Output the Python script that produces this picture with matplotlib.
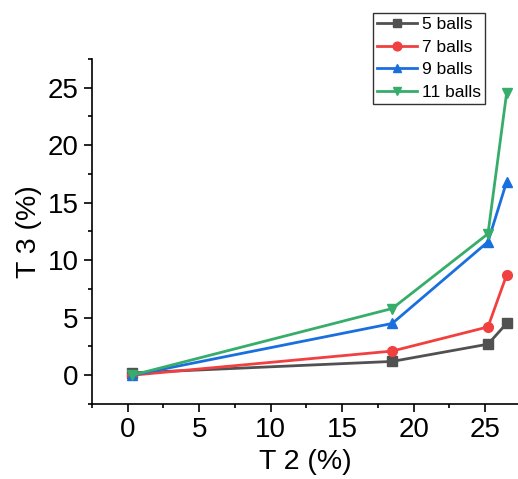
import numpy as np
import matplotlib
matplotlib.use("Agg")
from matplotlib import pyplot as plt
from matplotlib.ticker import MultipleLocator

plt.rcParams['font.family'] = ['Liberation Sans', 'DejaVu Sans']

# T2 (%) positions shared by all series
t2 = [0.3, 18.5, 25.2, 26.5]

balls5 = [0.2, 1.2, 2.7, 4.5]
balls7 = [0.0, 2.1, 4.2, 8.7]
balls9 = [0.0, 4.5, 11.6, 16.8]
balls11 = [0.0, 5.8, 12.3, 24.5]

labels = ['5 balls', '7 balls', '9 balls', '11 balls']
colors = ['#515151', '#F14040', '#1A6FDF', '#37AD6B']
markers = ['s', 'o', '^', 'v']

fig = plt.figure(figsize=(5.18, 4.79), dpi=100)
ax = fig.add_axes([0.1776, 0.1566, 0.8224, 0.7204])

for ys, lab, c, m in zip([balls5, balls7, balls9, balls11], labels, colors, markers):
    ax.plot(t2, ys, color=c, marker=m, markersize=7, linewidth=2, label=lab)

ax.set_xlim(-2.5, 27.3)
ax.set_ylim(-2.5, 27.5)
ax.xaxis.set_major_locator(MultipleLocator(5))
ax.xaxis.set_minor_locator(MultipleLocator(2.5))
ax.yaxis.set_major_locator(MultipleLocator(5))
ax.yaxis.set_minor_locator(MultipleLocator(2.5))

ax.spines['top'].set_visible(False)
ax.spines['right'].set_visible(False)
for s in ['left', 'bottom']:
    ax.spines[s].set_linewidth(1.2)
ax.tick_params(which='major', direction='out', length=6, width=1.2, labelsize=20)
ax.tick_params(which='minor', direction='out', length=3, width=1.2)

ax.set_xlabel('T 2 (%)', fontsize=20.5)
ax.set_ylabel('T 3 (%)', fontsize=20.5)

leg = ax.legend(loc='upper left', bbox_to_anchor=(373/518, 1 - 13/479),
                bbox_transform=fig.transFigure, fontsize=12.5, frameon=True,
                fancybox=False, edgecolor='black', borderpad=0.25,
                labelspacing=0.42, handlelength=2.3, handletextpad=0.25,
                borderaxespad=0, markerscale=0.9)
leg.get_frame().set_linewidth(1.0)

fig.savefig('out.png', dpi=100)
